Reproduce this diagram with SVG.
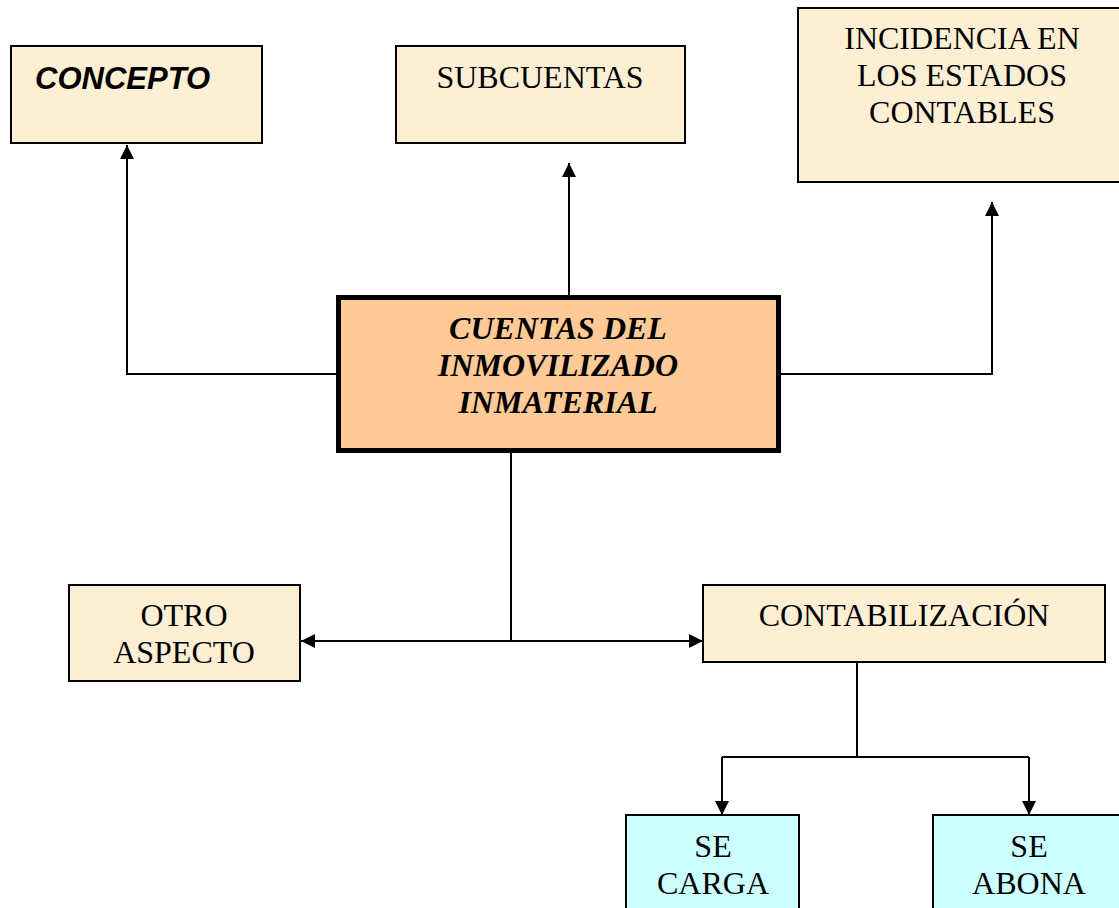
<svg xmlns="http://www.w3.org/2000/svg" width="1119" height="908" viewBox="0 0 1119 908">
<style>
.box{fill:#FCEFD4;stroke:#000;stroke-width:2}
.cyan{fill:#CCFFFF;stroke:#000;stroke-width:2}
.t{font-family:"Liberation Serif","Times New Roman",serif;font-size:32px;fill:#000;text-anchor:middle}
.b{font-weight:bold;font-style:italic;font-size:32px}
.c{fill:none;stroke:#000;stroke-width:2}
</style>
<defs>
<marker id="ah" viewBox="0 0 10 10" refX="10" refY="5" markerWidth="7" markerHeight="7" markerUnits="strokeWidth" orient="auto-start-reverse">
<path d="M0,0 L10,5 L0,10 z" fill="#000"/>
</marker>
</defs>
<rect width="1119" height="908" fill="#fff"/>
<g id="connectors">
<path class="c" d="M337,374 H127 V145" marker-end="url(#ah)"/>
<path class="c" d="M569,296 V163" marker-end="url(#ah)"/>
<path class="c" d="M780,374 H992 V202" marker-end="url(#ah)"/>
<path class="c" d="M511,452 V641"/>
<path class="c" d="M301,641 H703" marker-start="url(#ah)" marker-end="url(#ah)"/>
<path class="c" d="M857,662 V757"/>
<path class="c" d="M722,757 H1029"/>
<path class="c" d="M722,757 V815" marker-end="url(#ah)"/>
<path class="c" d="M1029,757 V815" marker-end="url(#ah)"/>
</g>
<g id="concepto">
<rect class="box" x="11" y="46" width="251" height="97"/>
<text x="35" y="89" font-family="'Liberation Sans',Arial,sans-serif" font-size="31" font-weight="bold" font-style="italic">CONCEPTO</text>
</g>
<g id="subcuentas">
<rect class="box" x="396" y="46" width="289" height="97"/>
<text class="t" x="540" y="88">SUBCUENTAS</text>
</g>
<g id="incidencia">
<rect class="box" x="798" y="8" width="322" height="174"/>
<text class="t" x="962" y="49">INCIDENCIA EN</text>
<text class="t" x="962" y="86">LOS ESTADOS</text>
<text class="t" x="962" y="123">CONTABLES</text>
</g>
<g id="cuentas">
<rect x="338.5" y="297.5" width="440" height="153" fill="#FFCA96" stroke="#000" stroke-width="5"/>
<text class="t b" x="558" y="339">CUENTAS DEL</text>
<text class="t b" x="558" y="376">INMOVILIZADO</text>
<text class="t b" x="558" y="413">INMATERIAL</text>
</g>
<g id="otro">
<rect class="box" x="69" y="585" width="231" height="96"/>
<text class="t" x="184" y="626">OTRO</text>
<text class="t" x="184" y="663">ASPECTO</text>
</g>
<g id="contabilizacion">
<rect class="box" x="703" y="585" width="402" height="77"/>
<text class="t" x="904" y="626">CONTABILIZACIÓN</text>
</g>
<g id="secarga">
<rect class="cyan" x="626" y="815" width="173" height="100"/>
<text class="t" x="713" y="857">SE</text>
<text class="t" x="713" y="894">CARGA</text>
</g>
<g id="seabona">
<rect class="cyan" x="933" y="815" width="200" height="100"/>
<text class="t" x="1029" y="857">SE</text>
<text class="t" x="1029" y="894">ABONA</text>
</g>
</svg>
